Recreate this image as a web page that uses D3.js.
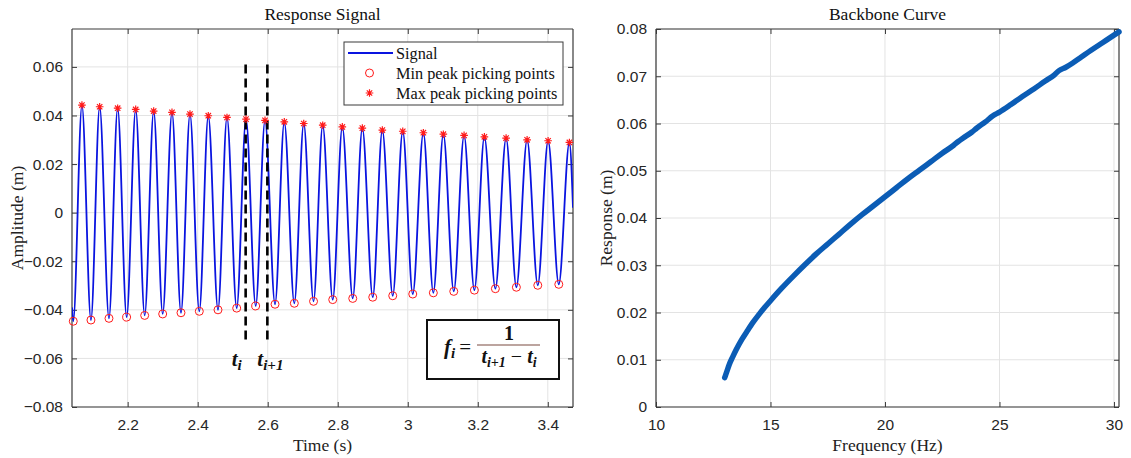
<!DOCTYPE html>
<html><head><meta charset="utf-8">
<script src="https://cdn.jsdelivr.net/npm/d3@7"></script>
<style>
html,body{margin:0;padding:0;background:#fff;}
svg{display:block;}
</style></head>
<body>
<svg id="chart" width="1131" height="458"></svg>
<script>
// ---------- DATA ----------
const maxPeakTimes = [2.0694,2.1200,2.1714,2.2229,2.2743,2.3266,2.3780,2.4303,2.4837,2.5380,2.5923,2.6474,2.7029,2.7571,2.8131,2.8703,2.9274,2.9857,3.0446,3.1017,3.1609,3.2189,3.2809,3.3409,3.4009,3.4617];
const maxPeakValues = [0.0443,0.0436,0.0430,0.0425,0.0418,0.0413,0.0406,0.0399,0.0392,0.0385,0.0380,0.0374,0.0367,0.0360,0.0353,0.0348,0.0340,0.0335,0.0329,0.0323,0.0318,0.0312,0.0307,0.0300,0.0296,0.0289];
const minPeakTimes = [2.0446,2.0951,2.1466,2.1971,2.2486,2.3000,2.3523,2.4046,2.4580,2.5114,2.5657,2.6209,2.6760,2.7309,2.7857,2.8429,2.9000,2.9571,3.0143,3.0731,3.1314,3.1903,3.2503,3.3103,3.3714,3.4314];
const minPeakValues = [-0.0447,-0.0442,-0.0435,-0.0430,-0.0423,-0.0417,-0.0412,-0.0406,-0.0400,-0.0393,-0.0384,-0.0377,-0.0373,-0.0365,-0.0358,-0.0353,-0.0348,-0.0342,-0.0335,-0.0330,-0.0324,-0.0319,-0.0313,-0.0307,-0.0299,-0.0295];
const signalStart = [2.041, -0.039];
const signalEnd = [3.472, 0.002];
const dashedTimes = [2.537, 2.599];
const dashedRange = [-0.054, 0.061];

const timeTicks = [2.2,2.4,2.6,2.8,3.0,3.2,3.4];
const ampTicks = [-0.08,-0.06,-0.04,-0.02,0,0.02,0.04,0.06];

const backboneFreq = [13.0,13.05,13.1,13.2,13.35,13.5,13.75,14.0,14.25,14.5,14.75,15.0,15.5,16.0,16.5,17.0,17.5,18.0,18.5,19.0,19.5,20.0,20.5,21.0,21.5,22.0,22.5,23.0,23.2,23.4,23.8,24.0,24.4,24.7,25.0,25.5,26.0,26.5,27.0,27.4,27.6,27.9,28.2,28.5,29.0,29.5,30.0,30.22];
const backboneResp = [0.0062,0.0069,0.0076,0.0090,0.0106,0.0121,0.0143,0.0162,0.0180,0.0196,0.0211,0.0225,0.0252,0.0277,0.0301,0.0324,0.0345,0.0366,0.0387,0.0407,0.0426,0.0445,0.0464,0.0483,0.0501,0.0519,0.0537,0.0554,0.0562,0.0569,0.0582,0.0590,0.0604,0.0616,0.0624,0.0640,0.0657,0.0673,0.0690,0.0703,0.0712,0.0719,0.0728,0.0738,0.0755,0.0771,0.0787,0.0794];
const freqTicks = [10,15,20,25,30];
const respTicks = [0,0.01,0.02,0.03,0.04,0.05,0.06,0.07,0.08];

const legendLabels = ["Signal","Min peak picking points","Max peak picking points"];

// ---------- STYLE ----------
const AX = "#3a3a3a", GRID = "#e3e3e3", TICKTXT = "#262626";
const SERIF = "'Liberation Serif', 'DejaVu Serif', serif";
const SANS = "'Liberation Sans', Arial, sans-serif";

const svg = d3.select("#chart");
svg.append("rect").attr("width",1131).attr("height",458).attr("fill","#fff");

function asteriskPath(r){
  const d = r*0.7071;
  return `M${-r},0L${r},0M0,${-r}L0,${r}M${-d},${-d}L${d},${d}M${-d},${d}L${d},${-d}`;
}

function makeAxes(g, x, y, xTicks, yTicks, xFmt, yFmt){
  const [x0,x1] = x.range(), [y1,y0] = y.range();
  g.append("g").selectAll("line").data(xTicks).join("line")
    .attr("x1",d=>x(d)).attr("x2",d=>x(d)).attr("y1",y0).attr("y2",y1)
    .attr("stroke",GRID).attr("stroke-width",1);
  g.append("g").selectAll("line").data(yTicks).join("line")
    .attr("x1",x0).attr("x2",x1).attr("y1",d=>y(d)).attr("y2",d=>y(d))
    .attr("stroke",GRID).attr("stroke-width",1);
  const tl = 5;
  const bottom = g.append("g").attr("transform",`translate(0,${y1})`)
    .call(d3.axisBottom(x).tickValues(xTicks).tickSize(-tl).tickPadding(12).tickFormat(xFmt));
  const top = g.append("g").attr("transform",`translate(0,${y0})`)
    .call(d3.axisTop(x).tickValues(xTicks).tickSize(-tl).tickFormat(""));
  const left = g.append("g").attr("transform",`translate(${x0},0)`)
    .call(d3.axisLeft(y).tickValues(yTicks).tickSize(-tl).tickPadding(9).tickFormat(yFmt));
  const right = g.append("g").attr("transform",`translate(${x1},0)`)
    .call(d3.axisRight(y).tickValues(yTicks).tickSize(-tl).tickFormat(""));
  [bottom,top,left,right].forEach(a=>{
    a.select(".domain").attr("stroke",AX).attr("stroke-width",1.2);
    a.selectAll(".tick line").attr("stroke",AX);
    a.selectAll("text").attr("fill",TICKTXT).attr("font-family",SANS).attr("font-size",15.5);
  });
  [bottom,top].forEach(a=>a.select(".domain").attr("d",`M${x0},0H${x1}`));
  [left,right].forEach(a=>a.select(".domain").attr("d",`M0,${y0}V${y1}`));
}

// ---------- LEFT PLOT ----------
const L = {x0:72, x1:573, y0:29, y1:407};
const xL = d3.scaleLinear().domain([2.041,3.472]).range([L.x0,L.x1]);
const yL = d3.scaleLinear().domain([-0.08,0.0756]).range([L.y1,L.y0]);
const gL = svg.append("g");
const fmtT = d=> d===3 ? "3" : d3.format(".1f")(d);
const fmtA = d=> d===0 ? "0" : d3.format(".2f")(d);
makeAxes(gL, xL, yL, timeTicks, ampTicks, fmtT, fmtA);

const sig = [signalStart];
minPeakTimes.forEach((t,i)=>{
  sig.push([t,minPeakValues[i]]);
  sig.push([maxPeakTimes[i],maxPeakValues[i]]);
});
sig.push(signalEnd);
sig.sort((a,b)=>a[0]-b[0]);
svg.append("clipPath").attr("id","clipL").append("rect")
  .attr("x",L.x0).attr("y",L.y0).attr("width",L.x1-L.x0).attr("height",L.y1-L.y0);
gL.append("path").datum(sig)
  .attr("clip-path","url(#clipL)")
  .attr("d",d3.line().x(d=>xL(d[0])).y(d=>yL(d[1])).curve(d3.curveMonotoneX))
  .attr("fill","none").attr("stroke","#0a14e0").attr("stroke-width",1.8);

gL.append("g").selectAll("line").data(dashedTimes).join("line")
  .attr("x1",d=>xL(d)).attr("x2",d=>xL(d))
  .attr("y1",yL(dashedRange[1])).attr("y2",yL(dashedRange[0]))
  .attr("stroke","#000").attr("stroke-width",2.6).attr("stroke-dasharray","9,5");

gL.append("g").selectAll("circle").data(minPeakTimes).join("circle")
  .attr("cx",d=>xL(d)).attr("cy",(d,i)=>yL(minPeakValues[i])).attr("r",4)
  .attr("fill","none").attr("stroke","#ff1a1a").attr("stroke-width",1);
gL.append("g").selectAll("path").data(maxPeakTimes).join("path")
  .attr("transform",(d,i)=>`translate(${xL(d)},${yL(maxPeakValues[i])})`)
  .attr("d",asteriskPath(3.8)).attr("stroke","#ff1a1a").attr("stroke-width",1.2).attr("fill","none");

function tLabel(x, y, sub){
  const t = gL.append("text").attr("x",x).attr("y",y)
    .attr("font-family",SERIF).attr("font-weight","bold").attr("font-style","italic")
    .attr("font-size",21).attr("fill","#111");
  t.append("tspan").text("t");
  t.append("tspan").attr("font-size",15).attr("dy",4).text(sub);
}
tLabel(xL(dashedTimes[0])-14, 366, "i");
tLabel(xL(dashedTimes[1])-10, 366, "i+1");

const lg = gL.append("g");
lg.append("rect").attr("x",344).attr("y",42).attr("width",219).attr("height",63)
  .attr("fill","#fff").attr("stroke","#3a3a3a").attr("stroke-width",1);
const rowsY = [53,73,93];
lg.append("line").attr("x1",348).attr("x2",393).attr("y1",rowsY[0]).attr("y2",rowsY[0])
  .attr("stroke","#0a14e0").attr("stroke-width",1.8);
lg.append("circle").attr("cx",369.5).attr("cy",rowsY[1]).attr("r",4)
  .attr("fill","none").attr("stroke","#ff1a1a").attr("stroke-width",1);
lg.append("path").attr("transform",`translate(369.5,${rowsY[2]})`)
  .attr("d",asteriskPath(3.8)).attr("stroke","#ff1a1a").attr("stroke-width",1.2);
lg.selectAll("text").data(legendLabels).join("text")
  .attr("x",396).attr("y",(d,i)=>rowsY[i]).attr("dy","0.35em")
  .attr("font-family",SERIF).attr("font-size",16.3).attr("fill","#111").text(d=>d);

const fb = gL.append("g");
fb.append("rect").attr("x",427).attr("y",320).attr("width",132).attr("height",59)
  .attr("fill","#fff").attr("stroke","#111").attr("stroke-width",2);
const fx = fb.append("text").attr("x",444).attr("y",354)
  .attr("font-family",SERIF).attr("font-size",21).attr("fill","#111");
fx.append("tspan").attr("font-weight","bold").attr("font-style","italic").text("f");
fx.append("tspan").attr("font-weight","bold").attr("font-style","italic").attr("font-size",15).attr("dy",4).text("i");
fx.append("tspan").attr("dy",-4).attr("dx",4).text("=");
fb.append("line").attr("x1",477).attr("x2",540).attr("y1",345).attr("y2",345)
  .attr("stroke","#7a4a40").attr("stroke-width",1.2);
fb.append("text").attr("x",509).attr("y",340).attr("text-anchor","middle")
  .attr("font-family",SERIF).attr("font-weight","bold").attr("font-size",20).attr("fill","#111").text("1");
const den = fb.append("text").attr("x",509).attr("y",363).attr("text-anchor","middle")
  .attr("font-family",SERIF).attr("font-size",20).attr("fill","#111");
den.append("tspan").attr("font-weight","bold").attr("font-style","italic").text("t");
den.append("tspan").attr("font-weight","bold").attr("font-style","italic").attr("font-size",14).attr("dy",4).text("i+1");
den.append("tspan").attr("dy",-4).text(" \u2212 ");
den.append("tspan").attr("font-weight","bold").attr("font-style","italic").text("t");
den.append("tspan").attr("font-weight","bold").attr("font-style","italic").attr("font-size",14).attr("dy",4).text("i");

gL.append("text").attr("x",(L.x0+L.x1)/2).attr("y",20).attr("text-anchor","middle")
  .attr("font-family",SERIF).attr("font-size",17.5).attr("fill","#111").text("Response Signal");
gL.append("text").attr("x",(L.x0+L.x1)/2).attr("y",451).attr("text-anchor","middle")
  .attr("font-family",SERIF).attr("font-size",17.5).attr("fill","#222").text("Time (s)");
gL.append("text").attr("transform",`translate(23,${(L.y0+L.y1)/2}) rotate(-90)`).attr("text-anchor","middle")
  .attr("font-family",SERIF).attr("font-size",17.5).attr("fill","#222").text("Amplitude (m)");

// ---------- RIGHT PLOT ----------
const R = {x0:656, x1:1119, y0:29, y1:407};
const xR = d3.scaleLinear().domain([10,30.22]).range([R.x0,R.x1]);
const yR = d3.scaleLinear().domain([0,0.08]).range([R.y1,R.y0]);
const gR = svg.append("g");
makeAxes(gR, xR, yR, freqTicks, respTicks, d3.format("d"), d=> d===0 ? "0" : d3.format(".2f")(d));
gR.append("path").datum(backboneFreq.map((f,i)=>[f,backboneResp[i]]))
  .attr("d",d3.line().x(d=>xR(d[0])).y(d=>yR(d[1])).curve(d3.curveMonotoneX))
  .attr("fill","none").attr("stroke","#0b5cb5").attr("stroke-width",5.5)
  .attr("stroke-linecap","round").attr("stroke-linejoin","round");
gR.append("text").attr("x",(R.x0+R.x1)/2).attr("y",20).attr("text-anchor","middle")
  .attr("font-family",SERIF).attr("font-size",17.5).attr("fill","#111").text("Backbone Curve");
gR.append("text").attr("x",(R.x0+R.x1)/2).attr("y",451).attr("text-anchor","middle")
  .attr("font-family",SERIF).attr("font-size",17.5).attr("fill","#222").text("Frequency (Hz)");
gR.append("text").attr("transform",`translate(612,${(R.y0+R.y1)/2}) rotate(-90)`).attr("text-anchor","middle")
  .attr("font-family",SERIF).attr("font-size",17.5).attr("fill","#222").text("Response (m)");
</script>
</body></html>
